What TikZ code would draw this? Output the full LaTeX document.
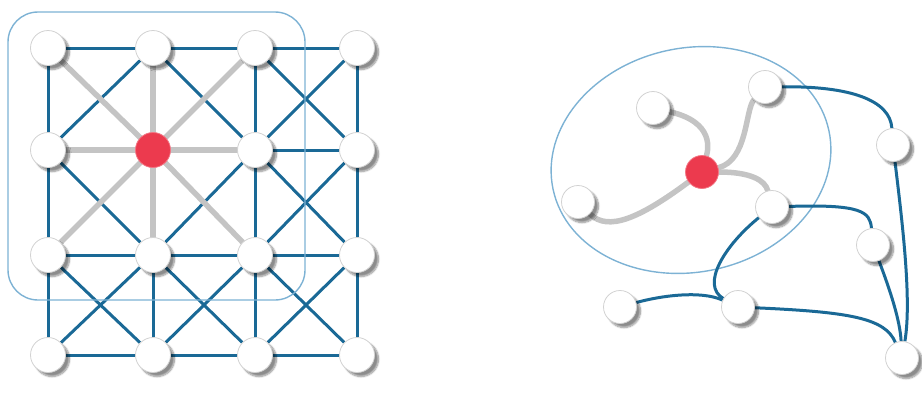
\documentclass[tikz,border=0pt]{standalone}
\usetikzlibrary{backgrounds,shadows.blur}
\definecolor{linkblue}{RGB}{26,105,150}
\definecolor{framblue}{RGB}{125,178,212}
\definecolor{hubred}{RGB}{236,58,78}
\definecolor{linkgray}{RGB}{196,196,196}
\tikzset{
  peer/.style={circle, draw=gray!35, line width=0.8pt, fill=white, minimum size=#1,
    inner sep=0pt, blur shadow={shadow xshift=4pt, shadow yshift=-4pt, shadow blur steps=8, shadow opacity=45}},
  peer/.default=35pt,
  hub/.style={circle, draw=hubred!70!white, line width=0.8pt, fill=hubred, minimum size=#1, inner sep=0pt},
  hub/.default=35pt,
  bluelink/.style={linkblue, line width=3pt},
  graylink/.style={linkgray, line width=5.5pt, line cap=round},
  frame/.style={framblue, line width=1.4pt}
}
\begin{document}
\begin{tikzpicture}[x=1pt,y=-1pt]
\useasboundingbox (0,0) rectangle (922,392);

% grid nodes
\node[peer] (p00) at (48,48) {};
\node[peer] (p10) at (153,48) {};
\node[peer] (p20) at (255,48) {};
\node[peer] (p30) at (357,48) {};
\node[peer] (p01) at (48,150) {};
\node[hub]  (p11) at (153,150) {};
\node[peer] (p21) at (255,150) {};
\node[peer] (p31) at (357,150) {};
\node[peer] (p02) at (48,255) {};
\node[peer] (p12) at (153,255) {};
\node[peer] (p22) at (255,255) {};
\node[peer] (p32) at (357,255) {};
\node[peer] (p03) at (48,355) {};
\node[peer] (p13) at (153,355) {};
\node[peer] (p23) at (255,355) {};
\node[peer] (p33) at (357,355) {};

% free-form nodes
\node[peer=33pt] (qa) at (653,108) {};
\node[peer=33pt] (qb) at (765,87) {};
\node[hub=33pt]  (qhub) at (702,172) {};
\node[peer=33pt] (qc) at (578,202) {};
\node[peer=33pt] (qd) at (772,207) {};
\node[peer=33pt] (qe) at (893,145) {};
\node[peer=33pt] (qf) at (873,245) {};
\node[peer=33pt] (qg) at (620,307) {};
\node[peer=33pt] (qh) at (738,307) {};
\node[peer=33pt] (qi) at (902,358) {};

\begin{pgfonlayer}{background}
% grid links
\draw[bluelink] (p00) -- (p10) -- (p20) -- (p30);
\draw[bluelink] (p21) -- (p31);
\draw[bluelink] (p02) -- (p12) -- (p22) -- (p32);
\draw[bluelink] (p03) -- (p13) -- (p23) -- (p33);
\draw[bluelink] (p00) -- (p01) -- (p02) -- (p03);
\draw[bluelink] (p12) -- (p13);
\draw[bluelink] (p20) -- (p21) -- (p22) -- (p23);
\draw[bluelink] (p30) -- (p31) -- (p32) -- (p33);
\draw[bluelink] (p10) -- (p01);
\draw[bluelink] (p10) -- (p21);
\draw[bluelink] (p01) -- (p12);
\draw[bluelink] (p21) -- (p12);
\draw[bluelink] (p20) -- (p31);
\draw[bluelink] (p30) -- (p21);
\draw[bluelink] (p21) -- (p32);
\draw[bluelink] (p31) -- (p22);
\draw[bluelink] (p02) -- (p13);
\draw[bluelink] (p12) -- (p03);
\draw[bluelink] (p12) -- (p23);
\draw[bluelink] (p22) -- (p13);
\draw[bluelink] (p22) -- (p33);
\draw[bluelink] (p32) -- (p23);
\draw[graylink] (p11) -- (p00);
\draw[graylink] (p11) -- (p10);
\draw[graylink] (p11) -- (p20);
\draw[graylink] (p11) -- (p01);
\draw[graylink] (p11) -- (p21);
\draw[graylink] (p11) -- (p02);
\draw[graylink] (p11) -- (p12);
\draw[graylink] (p11) -- (p22);
\draw[frame, rounded corners=30pt] (8,12) rectangle (305,300);

% free-form links
\draw[frame, rotate around={12:(691,160)}] (691,160) ellipse (141 and 112);
\draw[graylink] (qa) .. controls (715,122) and (708,150) .. (qhub);
\draw[graylink] (qb) .. controls (745,110) and (748,160) .. (qhub);
\draw[graylink] (qc) .. controls (608,232) and (640,218) .. (qhub);
\draw[graylink] (qhub) .. controls (750,172) and (765,180) .. (qd);
\draw[bluelink] (qb) .. controls (850,86) and (890,100) .. (qe);
\draw[bluelink] (qe) .. controls (902,220) and (912,300) .. (qi);
\draw[bluelink] (qd) .. controls (862,204) and (870,212) .. (qf);
\draw[bluelink] (qf) .. controls (890,290) and (900,320) .. (qi);
\draw[bluelink] (qd) .. controls (725,245) and (700,285) .. (qh);
\draw[bluelink] (qg) .. controls (660,296) and (700,290) .. (qh);
\draw[bluelink] (qh) .. controls (850,312) and (885,318) .. (qi);
\end{pgfonlayer}
\end{tikzpicture}
\end{document}
